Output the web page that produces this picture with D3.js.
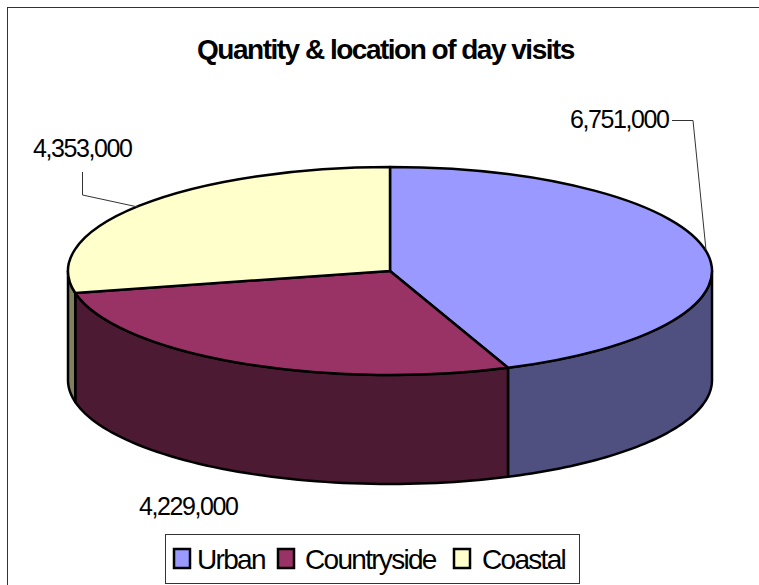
<!DOCTYPE html>
<html>
<head>
    <script src="https://d3js.org/d3.v7.min.js"></script>
    <style>
        body { margin: 0; background: #fff; }
        text { font-family: "Liberation Sans", Arial, sans-serif; fill: #000; }
    </style>
</head>
<body>
    <script>
        const categories = ['Urban', 'Countryside', 'Coastal']
        const visits = [6751000, 4229000, 4353000]
        const topColors = ['#9999ff', '#993366', '#ffffcc']
        const sideColors = ['#4f4f80', '#4d1a33', '#80805f']
        const chartTitle = 'Quantity & location of day visits'

        const width = 759
        const height = 585
        const cx = 390
        const cy = 271
        const rx = 322
        const ry = 104
        const depth = 109

        const svg = d3.select('body').append('svg')
            .attr('width', width).attr('height', height)
            .style('display', 'block')

        // chart frame, runs off the right and bottom of the picture
        svg.append('rect')
            .attr('x', 7.5).attr('y', 7.5)
            .attr('width', 760).attr('height', 600)
            .style('fill', '#fff').style('stroke', '#333').style('stroke-width', 1)

        svg.append('text')
            .attr('x', 385.5).attr('y', 59)
            .attr('text-anchor', 'middle')
            .style('font-size', '28px').style('font-weight', 'bold').style('letter-spacing', '-1.5px')
            .text(chartTitle)

        const slices = d3.pie().sort(null)(visits)
        const px = a => cx + rx * Math.sin(a)
        const py = a => cy - ry * Math.cos(a)

        // outer wall of one slice between two angles
        function wall(a0, a1) {
            const path = d3.path()
            const steps = d3.range(0, 61).map(i => a0 + (a1 - a0) * i / 60)
            steps.forEach((a, i) => i ? path.lineTo(px(a), py(a)) : path.moveTo(px(a), py(a)))
            steps.slice().reverse().forEach(a => path.lineTo(px(a), py(a) + depth))
            path.closePath()
            return path.toString()
        }

        const frontStart = Math.PI / 2
        const frontEnd = Math.PI * 1.5
        const walls = svg.append('g')
        slices.forEach((s, i) => {
            const a0 = Math.max(s.startAngle, frontStart)
            const a1 = Math.min(s.endAngle, frontEnd)
            if (a1 <= a0) return
            walls.append('path')
                .attr('d', wall(a0, a1))
                .style('fill', sideColors[i])
                .style('stroke', '#000').style('stroke-width', 2.5)
                .style('stroke-linejoin', 'round')
        })

        const arc = d3.arc().innerRadius(0).outerRadius(rx)
        svg.append('g')
            .attr('transform', `translate(${cx},${cy}) scale(1,${ry / rx})`)
            .selectAll('path')
            .data(slices)
            .join('path')
            .attr('d', arc)
            .attr('vector-effect', 'non-scaling-stroke')
            .style('fill', (d, i) => topColors[i])
            .style('stroke', '#000').style('stroke-width', 2.5)
            .style('stroke-linejoin', 'round')

        // data labels and their leader lines
        const fmt = d3.format(',')
        const labels = [
            { x: 570, y: 128, leader: [[672, 120.5], [693, 120.5], [706, 250]] },
            { x: 33, y: 157, leader: [[82.5, 172], [82.5, 195], [138, 207]] },
            { x: 139, y: 515, leader: null }
        ]
        const leader = d3.line()
        labels.forEach((l, i) => {
            svg.append('text')
                .attr('x', l.x).attr('y', l.y)
                .style('font-size', '25px').style('letter-spacing', '-1.4px')
                .text(fmt(visits[i === 0 ? 0 : i === 1 ? 2 : 1]))
            if (l.leader) {
                svg.append('path')
                    .attr('d', leader(l.leader))
                    .style('fill', 'none').style('stroke', '#333').style('stroke-width', 1)
            }
        })

        // legend
        const legend = svg.append('g')
        legend.append('rect')
            .attr('x', 165.5).attr('y', 534.5)
            .attr('width', 414).attr('height', 49)
            .style('fill', '#fff').style('stroke', '#333').style('stroke-width', 1)
        const swatchX = [174, 278, 454]
        const textX = [197, 305, 482]
        categories.forEach((c, i) => {
            legend.append('rect')
                .attr('x', swatchX[i]).attr('y', 549)
                .attr('width', 16).attr('height', 19)
                .style('fill', topColors[i])
                .style('stroke', '#000').style('stroke-width', 2.5)
            legend.append('text')
                .attr('x', textX[i]).attr('y', 569)
                .style('font-size', '28px').style('letter-spacing', '-1.7px')
                .text(c)
        })
    </script>
</body>
</html>
